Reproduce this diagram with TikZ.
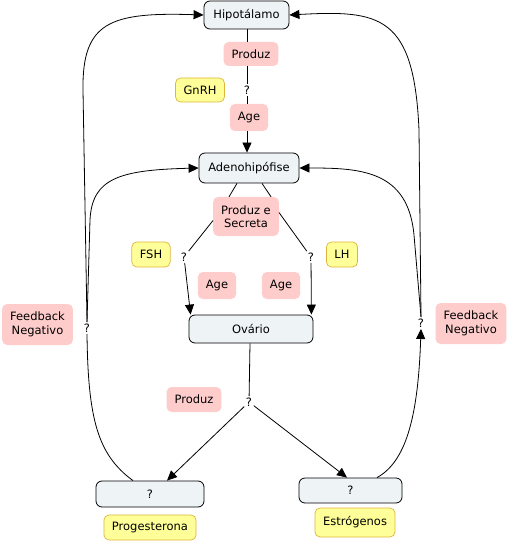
\documentclass[tikz,border=0pt]{standalone}
\usepackage{fontspec}
\setmainfont{DejaVu Sans}
\usetikzlibrary{arrows.meta}
\definecolor{boxfill}{RGB}{238,244,246}
\definecolor{pinkfill}{RGB}{255,204,204}
\definecolor{yelfill}{RGB}{255,255,153}
\definecolor{yelborder}{RGB}{222,180,60}
\begin{document}
\begin{tikzpicture}[x=1pt,y=-1pt,
 every node/.style={font=\fontsize{11.5}{13.5}\selectfont},
 concept/.style={draw=black, line width=0.8pt, fill=boxfill, rounded corners=6pt, minimum height=28pt, inner sep=2pt},
 phrase/.style={fill=pinkfill, rounded corners=5pt, inner xsep=8pt, minimum height=24pt, align=center},
 tag/.style={fill=yelfill, draw=yelborder, line width=0.7pt, rounded corners=5pt, inner xsep=8pt, minimum height=24pt},
 qmark/.style={inner sep=1.5pt},
 conn/.style={line width=0.8pt},
 arr/.style={conn, -{Triangle[length=10pt,width=9pt]}}
]
\useasboundingbox[fill=white] (0,0) rectangle (510,545);
\node[concept, minimum width=85pt] (hipo) at (246.5,15) {Hipotálamo};
\node[phrase] (p1) at (251,54) {Produz};
\node[tag] (gnrh) at (200,90) {GnRH};
\node[qmark] (q1) at (247,90) {?};
\node[phrase, minimum height=27pt] (a1) at (249,117.5) {Age};
\node[concept, minimum width=100pt, minimum height=30pt] (adeno) at (249,168) {Adenohipófise};
\node[phrase, minimum height=39pt] (pes) at (246,216.5) {Produz e\\Secreta};
\node[tag, minimum height=25pt] (fsh) at (151,254.5) {FSH};
\node[tag, minimum height=25pt] (lh) at (342,254.5) {LH};
\node[qmark] (qL) at (184,257) {?};
\node[qmark] (qR) at (311,257) {?};
\node[phrase, minimum height=27pt] (a2) at (217,285.5) {Age};
\node[phrase, minimum height=27pt] (a3) at (281,285.5) {Age};
\node[concept, minimum width=124pt] (ovario) at (251,329) {Ovário};
\node[phrase, minimum height=25pt] (p2) at (194,399.5) {Produz};
\node[qmark] (q3) at (249,402) {?};
\node[concept, minimum width=108pt, minimum height=26pt] (bl) at (150,494) {?};
\node[concept, minimum width=103pt, minimum height=25pt] (br) at (350.5,490.5) {?};
\node[tag, minimum height=25pt] (prog) at (150,527.5) {Progesterona};
\node[tag, minimum height=29pt] (estr) at (355,522.5) {Estrógenos};
\node[phrase, minimum height=41pt] (fbl) at (37.5,324.5) {Feedback\\Negativo};
\node[phrase, minimum height=41pt] (fbr) at (471,323.5) {Feedback\\Negativo};
\node[qmark] (qFL) at (87,328) {?};
\node[qmark] (qFR) at (421,323) {?};
% top chain
\draw[conn] (hipo.south -| q1) -- (p1.north -| q1);
\draw[conn] (p1.south -| q1) -- (q1);
\draw[conn] (q1) -- (a1.north -| q1);
\draw[arr] (a1.south -| q1) -- (adeno.north -| q1);
% adeno to ovary
\draw[conn] ([xshift=-12pt]adeno.south) -- ([xshift=-17pt]pes.north);
\draw[conn] ([xshift=13pt]adeno.south) -- ([xshift=25pt]pes.north);
\draw[conn] ([yshift=-4pt]pes.west) -- (qL);
\draw[conn] ([yshift=4pt]pes.east) -- (qR);
\draw[arr] (qL) -- ([xshift=2pt]ovario.north west);
\draw[arr] (qR) -- ([xshift=-2pt]ovario.north east);
% ovary to hormones
\draw[conn] ([xshift=-1pt]ovario.south) -- (q3);
\draw[arr] (q3) -- ([xshift=17pt]bl.north);
\draw[arr] (q3) -- ([xshift=-3.5pt]br.north);
% feedback left
\draw[conn] ([xshift=-17pt]bl.north) .. controls (98,455) and (88,420) .. (qFL.south);
\draw[arr] (qFL.north) -- (83,90) .. controls (82,22) and (110,12) .. (hipo.west);
\draw[arr] (qFL.north) -- (90,220) .. controls (92,178) and (120,170) .. (adeno.west);
% feedback right
\draw[arr] ([xshift=26.5pt]br.north) .. controls (405,462) and (418,420) .. (qFR.south);
\draw[arr] (qFR.north) -- (419,130) .. controls (414,15) and (380,10) .. (hipo.east);
\draw[arr] (qFR.north) -- (414,235) .. controls (408,170) and (360,168) .. (adeno.east);
\end{tikzpicture}
\end{document}
